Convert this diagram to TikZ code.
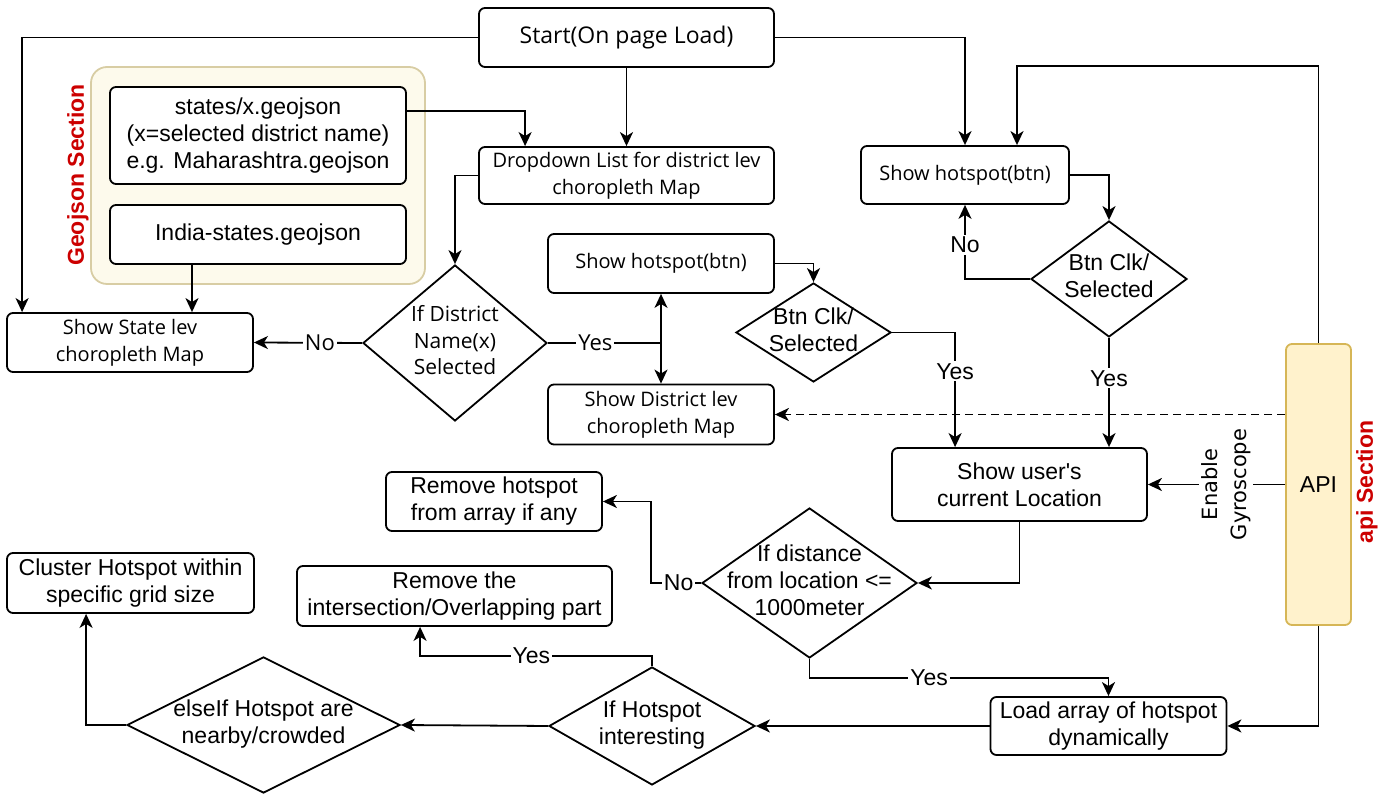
\documentclass[tikz,border=0pt]{standalone}
\usepackage{fontspec}
\setmainfont{Liberation Sans}
\newfontfamily\segoe{Open Sans}
\newfontfamily\verdana{DejaVu Sans}
\usetikzlibrary{arrows.meta,positioning,shapes.geometric}
\definecolor{geofill}{HTML}{FDFAEC}
\definecolor{geoline}{HTML}{D8CDA4}
\definecolor{apifill}{HTML}{FFF2CC}
\definecolor{apiline}{HTML}{D6B656}
\definecolor{secred}{HTML}{CC0000}
\newcommand{\dtxt}[1]{\makebox[0pt]{\begin{tabular}{@{}c@{}}#1\end{tabular}}}

\begin{document}
\begin{tikzpicture}[
    x=0.5pt, y=-0.5pt,
    font=\fontsize{11.5}{13.5}\selectfont,
    box/.style={draw, fill=white, rounded corners=3pt, align=center, line width=0.9pt, inner sep=0pt},
    seg/.style={font=\segoe\fontsize{10}{13.5}\selectfont},
    decision/.style={diamond, draw, fill=white, line width=0.9pt, inner sep=0pt},
    arr/.style={-{Stealth[length=7pt,width=6.5pt,inset=2pt]}, line width=0.9pt},
    lbl/.style={fill=white, inner sep=1pt},
    group/.style={draw, rounded corners=8pt, line width=0.9pt},
    sectitle/.style={rotate=90, text=secred, font=\bfseries\fontsize{11.5}{13.5}\selectfont}
  ]
  \useasboundingbox (0,0) rectangle (1389,795);

  % geojson section
  \node[group, fill=geofill, draw=geoline, minimum width=167pt, minimum height=108.5pt] (geo) at (258,175.5) {};
  \node[sectitle] (geotitle) at (78,175) {Geojson Section};
  \node[box, minimum width=148pt, minimum height=48.5pt] (states) at (258,135.5) {states/x.geojson\\(x=selected district name)\\e.g. Maharashtra.geojson};
  \node[box, minimum width=148pt, minimum height=29.5pt] (india) at (258,234.5) {India-states.geojson};

  % main flow
  \node[box, seg, font=\segoe\fontsize{11.5}{13.5}\selectfont, minimum width=147.5pt, minimum height=29.5pt] (start) at (626.5,37.5) {Start(On page Load)};
  \node[box, seg, minimum width=147.5pt, minimum height=28.5pt] (drop) at (626.5,175.5) {Dropdown List for district lev\\choropleth Map};
  \node[box, seg, minimum width=123pt, minimum height=29.5pt] (state) at (130,342.5) {Show State lev\\choropleth Map};
  \node[decision, font=\segoe\fontsize{10.5}{13.25}\selectfont, minimum width=92pt, minimum height=78pt] (district) at (455,343) {\dtxt{If District\\Name(x)\\Selected}};
  \node[box, seg, minimum width=113pt, minimum height=29.5pt] (hotmid) at (661,263.5) {Show hotspot(btn)};
  \node[box, seg, minimum width=113pt, minimum height=30pt] (distmap) at (661,414.5) {Show District lev\\choropleth Map};
  \node[decision, minimum width=77.5pt, minimum height=49.5pt] (btnmid) at (813.5,332.5) {\dtxt{Btn Clk/\\Selected}};
  \node[box, seg, minimum width=104pt, minimum height=29pt] (hotright) at (965,175) {Show hotspot(btn)};
  \node[decision, minimum width=78pt, minimum height=58pt] (btnright) at (1109,279) {\dtxt{Btn Clk/\\Selected}};
  \node[box, minimum width=127.5pt, minimum height=36.5pt] (user) at (1019.5,484.5) {Show user\textquotesingle s\\current Location};

  % api section
  \node[box, fill=apifill, draw=apiline, minimum width=32.5pt, minimum height=140.5pt] (api) at (1318.5,484.5) {API};
  \node[sectitle] (apititle) at (1367,482) {api Section};

  % hotspot handling
  \node[decision, minimum width=107.5pt, minimum height=75pt] (dist) at (809.5,583) {\dtxt{If distance\\from location <=\\1000meter}};
  \node[box, minimum width=108pt, minimum height=29.5pt] (remhot) at (494,501.5) {Remove hotspot\\from array if any};
  \node[box, minimum width=157.5pt, minimum height=30pt] (reminter) at (454.5,596) {Remove the\\intersection/Overlapping part};
  \node[box, minimum width=118pt, minimum height=29pt] (load) at (1108.5,726) {Load array of hotspot\\dynamically};
  \node[decision, minimum width=103pt, minimum height=59pt] (interest) at (652,726) {\dtxt{If Hotspot\\interesting}};
  \node[decision, minimum width=136.5pt, minimum height=68pt] (elseif) at (263.5,725) {\dtxt{elseIf Hotspot are\\nearby/crowded}};
  \node[box, minimum width=123.5pt, minimum height=30pt] (cluster) at (130.5,583) {Cluster Hotspot within\\specific grid size};

  \draw[arr] (start) -- (drop);
  \draw[arr] (start.west) -| ([xshift=8pt]state.north west);
  \draw[arr] (start.east) -| (hotright.north);
  \draw[arr] ([yshift=12.25pt]states.east) -| ([xshift=23.5pt]drop.north west);
  \draw[arr] ([xshift=-33pt]india.south) -- ([xshift=-33pt]india.south |- state.north);
  \draw[arr] (drop.west) -| (district.north);
  \draw[arr] (district.west) -- node[lbl, font=\segoe\fontsize{11}{13}\selectfont, pos=0.39]{No} (state.east);
  \coordinate (fork) at (district.east -| hotmid.south);
  \draw[line width=0.9pt] (district.east) -- node[lbl, font=\segoe\fontsize{11}{13}\selectfont, pos=0.42]{Yes} (fork);
  \draw[arr] (fork) -- (hotmid.south);
  \draw[arr] (fork) -- (distmap.north);
  \draw[arr] (hotmid.east) -| (btnmid.north);
  \draw[arr] (btnmid.east) -| node[lbl, pos=0.67]{Yes} ([xshift=32pt]user.north west);
  \draw[arr] (hotright.east) -| (btnright.north);
  \draw[arr] (btnright.west) -| node[lbl, pos=0.73]{No} (hotright.south);
  \draw[arr] (btnright.south) -- node[lbl, pos=0.37]{Yes} (btnright.south |- user.north);
  \draw[arr] (api.north) -- ++(0,-277) -| ([xshift=26pt]hotright.north);
  \draw[arr] (api.west) -- node[lbl, rotate=90, align=center, font=\verdana\fontsize{10.5}{14.5}\selectfont, pos=0.43]{Enable\\Gyroscope} (user.east);
  \draw[arr, dash pattern=on 4pt off 2.5pt] (distmap.east -| api.west) -- (distmap.east);
  \draw[arr] (api.south) |- (load.east);
  \draw[arr] (user.south) |- (dist.east);
  \draw[arr] (dist.west) -- node[lbl, pos=0.45]{No} ++(-50,0) |- (remhot.east);
  \draw[arr] (dist.south) -- ++(0,19) -| node[lbl, pos=0.2]{Yes} (load.north);
  \draw[arr] (load.west) -- (interest.east);
  \draw[arr] (interest.north) -- ++(0,-10) -| node[lbl, pos=0.26]{Yes} ([xshift=62pt]reminter.south west);
  \draw[arr] (interest.west) -- (elseif.east);
  \draw[arr] (elseif.west) -| ([xshift=40pt]cluster.south west);
\end{tikzpicture}
\end{document}
